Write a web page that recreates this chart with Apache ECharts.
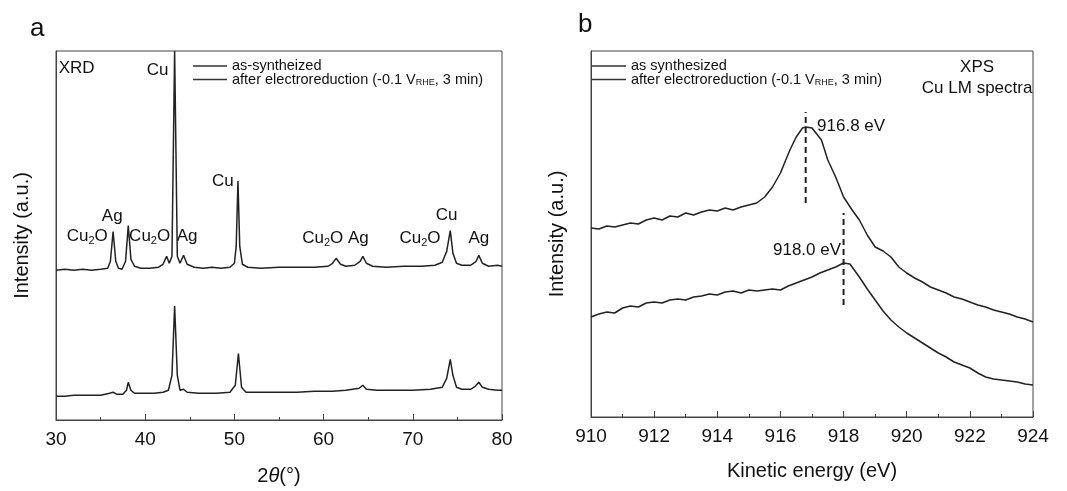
<!DOCTYPE html>
<html><head><meta charset="utf-8">
<script src="https://cdn.jsdelivr.net/npm/echarts@6/dist/echarts.min.js"></script>
<style>html,body{margin:0;padding:0;background:#fff}#c{width:1067px;height:491px}</style>
</head><body><div id="c"></div>
<script>
// ---- Panel a: XRD (2θ in degrees, intensity in arbitrary units) ----
const xrdTicks = [30, 40, 50, 60, 70, 80];
const xrdAsSynth = [
[30,151],[31,152],[32,151],[33,152],[34,151],[35,152],[35.8,153],[36.1,160],[36.4,190],[36.7,160],[37.0,153],[37.4,152],[37.8,160],[38.1,196],[38.4,162],[38.8,155],[39.5,153],[40.5,153],[41.5,154],[42.0,157],[42.4,165],[42.7,158],[43.0,165],[43.3,372],[43.6,165],[43.9,158],[44.3,166],[44.7,157],[45.5,154],[46.5,153],[47.5,154],[48.5,153],[49.5,154],[50.0,158],[50.2,175],[50.4,241],[50.6,175],[50.9,157],[51.5,154],[53,153],[55,154],[57,154],[59,154],[60.5,155],[61.0,158],[61.4,163],[61.9,157],[62.5,155],[63.5,156],[64.1,160],[64.4,165],[64.8,158],[65.5,155],[67,154],[69,155],[71,155],[72.5,156],[73.3,159],[73.8,170],[74.2,191],[74.5,168],[74.9,158],[75.5,156],[76.5,156],[77.1,160],[77.4,166],[77.8,158],[78.5,155],[79.5,156],[80,155]
];
const xrdAfter = [
[30,24],[31,24],[32,25],[33,25],[34,25],[35,25],[36.0,27],[36.4,28],[36.8,26],[37.5,26],[37.9,30],[38.1,38],[38.4,30],[38.8,27],[40,27],[41,27],[42,28],[42.6,30],[43.0,45],[43.3,115],[43.6,45],[43.9,30],[44.3,31],[44.7,28],[46,27],[48,27],[49.5,28],[50.1,35],[50.45,67],[50.8,33],[51.3,28],[53,28],[55,28],[57,28],[59,29],[61,29],[62.5,30],[64.0,32],[64.4,35],[64.8,31],[66,30],[68,30],[70,30],[72,31],[73.3,33],[73.8,42],[74.2,61],[74.5,45],[74.9,33],[75.5,31],[76.5,31],[77.0,34],[77.4,38],[77.8,33],[78.5,31],[79.5,30],[80,30]
];
// peak annotations: [2θ, intensity, text]
const xrdLabels = [
[41.4,353,'Cu'],[48.7,241,'Cu'],[36.3,205,'Ag'],[33.5,185,'Cu2O'],[40.5,185,'Cu2O'],[44.7,185,'Ag'],
[59.9,183,'Cu2O'],[63.9,183,'Ag'],[70.8,183,'Cu2O'],[73.8,206,'Cu'],[77.4,183,'Ag']
];

// ---- Panel b: XPS Cu LM (kinetic energy eV) ----
const xpsTicks = [910, 912, 914, 916, 918, 920, 922, 924];
const xpsAsSynth = [
[910,189],[910.25,188],[910.5,191],[910.75,190],[911,192],[911.25,194],[911.5,193],[911.75,197],[912,199],[912.25,197],[912.5,201],[912.75,200],[913,204],[913.25,202],[913.5,205],[913.75,207],[914,206],[914.25,209],[914.5,207],[914.75,210],[915,212],[915.25,214],[915.5,220],[915.75,230],[916,244],[916.3,267],[916.5,280],[916.7,289],[916.8,290],[917,289],[917.3,277],[917.5,257],[917.75,240],[918,220],[918.25,208],[918.5,197],[918.75,182],[919,170],[919.25,166],[919.5,160],[919.75,150],[920,144],[920.25,139],[920.5,135],[920.75,130],[921,127],[921.25,124],[921.5,120],[921.75,118],[922,115],[922.25,112],[922.5,110],[922.75,107],[923,105],[923.25,103],[923.5,100],[923.75,98],[924,95]
];
const xpsAfter = [
[910,100],[910.25,103],[910.5,105],[910.75,104],[911,109],[911.25,111],[911.5,110],[911.75,114],[912,115],[912.25,114],[912.5,117],[912.75,118],[913,117],[913.25,120],[913.5,121],[913.75,123],[914,122],[914.25,125],[914.5,126],[914.75,124],[915,127],[915.25,126],[915.5,127],[915.75,128],[916,127],[916.25,131],[916.5,134],[916.75,137],[917,140],[917.25,144],[917.5,147],[917.75,150],[918,154],[918.2,153],[918.5,140],[918.75,128],[919,117],[919.25,106],[919.5,97],[919.75,90],[920,84],[920.25,79],[920.5,74],[920.75,69],[921,64],[921.25,60],[921.5,55],[921.75,52],[922,49],[922.25,44],[922.5,40],[922.75,38],[923,37],[923.25,36],[923.5,35],[923.75,33],[924,32]
];
const xpsPeakMarks = [[916.8,214,305],[918.0,112,204]]; // [energy, from, to]
const xpsLabels = [[917.16,291,'916.8 eV','left'],[917.92,167,'918.0 eV','right'],[922.23,350,'XPS','center'],[922.23,329,'Cu LM spectra','center']];

const legendA = ['{n|as-syntheized}', '{n|after electroreduction (-0.1 V}{s|RHE}{n|, 3 min)}'];
const legendB = ['{n|as synthesized}', '{n|after electroreduction (-0.1 V}{s|RHE}{n|, 3 min)}'];

const INK = '#111';
const FONT = 'Liberation Sans, Arial, sans-serif';
const chart = echarts.init(document.getElementById('c'), null, {renderer:'canvas'});

function fmtLabel(t){
  if (t === 'Cu2O') return '{n|Cu}{s|2}{n|O}';
  return '{n|' + t + '}';
}
const richLab = {n:{fontSize:17,color:INK,fontFamily:FONT}, s:{fontSize:11,color:INK,fontFamily:FONT,padding:[9,0,0,0]}};
const richLeg = {n:{fontSize:14.5,color:INK,fontFamily:FONT}, s:{fontSize:9,color:INK,fontFamily:FONT,padding:[6,0,0,0]}};

function xAxisCfg(idx, min, max, interval, name, gap){
  return {gridIndex:idx, type:'value', min:min, max:max, interval:interval,
    name:name, nameLocation:'middle', nameGap:gap,
    nameTextStyle:{fontSize:20,color:INK,fontFamily:FONT,
      rich:{n:{fontSize:20,color:INK,fontFamily:FONT}, i:{fontSize:20,color:INK,fontFamily:FONT,fontStyle:'italic'}}},
    axisLine:{show:true,lineStyle:{color:'#444',width:1}},
    axisTick:{show:true,inside:true,length:6,lineStyle:{color:'#444'}},
    minorTick:{show:true,splitNumber:2,length:3,lineStyle:{color:'#444'}},
    axisLabel:{fontSize:19,color:INK,fontFamily:FONT,margin:10},
    splitLine:{show:false}};
}
function yAxisCfg(idx, max, gap){
  return {gridIndex:idx, type:'value', min:0, max:max,
    name:'Intensity (a.u.)', nameLocation:'middle', nameGap:gap, nameRotate:90,
    nameTextStyle:{fontSize:20,color:INK,fontFamily:FONT},
    axisLine:{show:true,lineStyle:{color:'#444'}}, axisTick:{show:false}, axisLabel:{show:false}, splitLine:{show:false}};
}
const lineStyle = {color:'#222', width:1.5};
function legendGraphic(x, texts){
  const els = [];
  texts.forEach((t,i)=>{
    const y = 66 + i*13.5;
    els.push({type:'line', shape:{x1:x, y1:y, x2:x+34, y2:y}, style:{stroke:'#333', lineWidth:1.4}, silent:true});
    els.push({type:'text', x:x+39, y:y, silent:true, style:{text:t, rich:richLeg, verticalAlign:'middle', align:'left', fill:INK, fontFamily:FONT, fontSize:14.5}});
  });
  return els;
}
const labelItem = {opacity:1, color:'#000'};

const option = {
  animation:false,
  backgroundColor:'#fff',
  graphic:[
    {type:'text', left:30, top:16, style:{text:'a', fontSize:26, fill:INK, fontFamily:FONT}},
    {type:'text', left:578, top:12, style:{text:'b', fontSize:26, fill:INK, fontFamily:FONT}},
    ...legendGraphic(193, legendA),
    ...legendGraphic(592, legendB)
  ],
  grid:[
    {left:56, right:565, top:51, bottom:68, show:true, borderColor:'#444', borderWidth:1},
    {left:591, right:34, top:51, bottom:74, show:true, borderColor:'#444', borderWidth:1}
  ],
  xAxis:[ xAxisCfg(0,30,80,10,'{n|2}{i|θ}{n|(°)}',46), xAxisCfg(1,910,924,2,'Kinetic energy (eV)',44) ],
  yAxis:[ yAxisCfg(0,372,24), yAxisCfg(1,366,24) ],
  series:[
    {name:'as-syntheized', type:'line', xAxisIndex:0, yAxisIndex:0, data:xrdAsSynth, symbol:'none', lineStyle:lineStyle, itemStyle:{color:'#222'}},
    {name:'after electroreduction', type:'line', xAxisIndex:0, yAxisIndex:0, data:xrdAfter, symbol:'none', lineStyle:lineStyle, itemStyle:{color:'#222'}},
    {name:'as synthesized', type:'line', xAxisIndex:1, yAxisIndex:1, data:xpsAsSynth, symbol:'none', lineStyle:lineStyle, itemStyle:{color:'#222'}},
    {name:'after electroreduction (XPS)', type:'line', xAxisIndex:1, yAxisIndex:1, data:xpsAfter, symbol:'none', lineStyle:lineStyle, itemStyle:{color:'#222'}},
    ...xpsPeakMarks.map(m=>({type:'line', xAxisIndex:1, yAxisIndex:1, data:[[m[0],m[1]],[m[0],m[2]]], symbol:'none', silent:true,
      lineStyle:{color:'#222', width:2, type:[6,4]}})),
    {type:'scatter', xAxisIndex:0, yAxisIndex:0, symbolSize:0, silent:true, itemStyle:labelItem,
      data: xrdLabels.map(d=>({value:[d[0],d[1]], name:d[2]})),
      label:{show:true, position:'inside', color:INK, formatter:(p)=>fmtLabel(p.name), rich:richLab}},
    {type:'scatter', xAxisIndex:0, yAxisIndex:0, symbolSize:0, silent:true, itemStyle:labelItem,
      data:[{value:[30.3,355], name:'XRD'}],
      label:{show:true, position:'right', distance:0, color:INK, formatter:(p)=>fmtLabel(p.name), rich:richLab}},
    {type:'scatter', xAxisIndex:1, yAxisIndex:1, symbolSize:0, silent:true, itemStyle:labelItem,
      data: xpsLabels.map(d=>({value:[d[0],d[1]], name:d[2], label:{position: d[3]==='left'?'right':(d[3]==='right'?'left':'inside')}})),
      label:{show:true, distance:0, color:INK, formatter:(p)=>'{n|'+p.name+'}', rich:richLab}}
  ]
};
chart.setOption(option);
</script></body></html>
